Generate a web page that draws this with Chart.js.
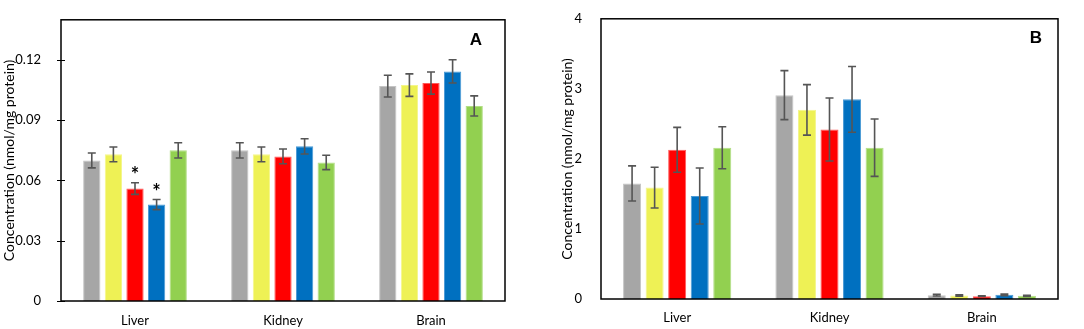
<!DOCTYPE html>
<html>
<head>
<meta charset="utf-8">
<script src="https://cdn.jsdelivr.net/npm/chart.js@4"></script>
<style>
  html, body { margin: 0; padding: 0; background: #fff; }
  #wrap { position: relative; width: 1084px; height: 329px; }
  #chartA { position: absolute; left: 0; top: 0; }
  #chartB { position: absolute; left: 540px; top: 0; }
</style>
</head>
<body>
<div id="wrap">
  <canvas id="chartA" width="540" height="329"></canvas>
  <canvas id="chartB" width="544" height="329"></canvas>
</div>
<script>
const categories = ['Liver', 'Kidney', 'Brain'];
const seriesNames = ['Group 1', 'Group 2', 'Group 3', 'Group 4', 'Group 5'];
const barColors = ['#A6A6A6', '#EEF155', '#FF0000', '#0070C0', '#92D050'];
const edgeColors = ['#C4C4C4', '#F4F68A', '#FF5A5A', '#4A9AD6', '#B2DE86'];

// Panel A: nmol/mg protein
const valuesA = [
    [0.070, 0.075, 0.107],
    [0.073, 0.073, 0.1075],
    [0.056, 0.072, 0.1085],
    [0.048, 0.077, 0.1143],
    [0.075, 0.069, 0.0971]
];
const errorsA = [
    [0.0037, 0.0038, 0.0054],
    [0.0037, 0.0037, 0.0056],
    [0.0029, 0.0037, 0.0055],
    [0.0025, 0.0038, 0.0058],
    [0.0038, 0.0036, 0.0050]
];
const starsA = [
    [0, 0, 0],
    [0, 0, 0],
    [1, 0, 0],
    [1, 0, 0],
    [0, 0, 0]
];
const ticksA = [0, 0.03, 0.06, 0.09, 0.12];

// Panel B: nmol/mg protein
const valuesB = [
    [1.65, 2.91, 0.055],
    [1.59, 2.70, 0.050],
    [2.13, 2.42, 0.040],
    [1.47, 2.85, 0.060],
    [2.16, 2.16, 0.045]
];
const errorsB = [
    [0.25, 0.35, 0.012],
    [0.29, 0.36, 0.010],
    [0.32, 0.45, 0.005],
    [0.40, 0.47, 0.012],
    [0.30, 0.41, 0.008]
];
const ticksB = [0, 1, 2, 3, 4];

const FONT = 'Lato, "Open Sans", sans-serif';

// error bars, asterisks, frame and panel letter
const extrasPlugin = {
    id: 'extras',
    afterDatasetsDraw(chart, args, opts) {
        const ctx = chart.ctx;
        const y = chart.scales.y;
        ctx.save();
        ctx.strokeStyle = '#555555';
        ctx.lineWidth = 1.6;
        chart.data.datasets.forEach((ds, i) => {
            const meta = chart.getDatasetMeta(i);
            meta.data.forEach((bar, j) => {
                const v = ds.data[j];
                const e = ds.errors[j];
                const top = y.getPixelForValue(v + e);
                const bot = y.getPixelForValue(v - e);
                const cap = 4;
                ctx.beginPath();
                ctx.moveTo(bar.x, top); ctx.lineTo(bar.x, bot);
                ctx.moveTo(bar.x - cap, top); ctx.lineTo(bar.x + cap, top);
                ctx.moveTo(bar.x - cap, bot); ctx.lineTo(bar.x + cap, bot);
                ctx.stroke();
                if (ds.stars && ds.stars[j]) {
                    ctx.fillStyle = '#000';
                    ctx.font = 'bold 20px ' + FONT;
                    ctx.textAlign = 'center';
                    ctx.textBaseline = 'middle';
                    ctx.fillText('*', bar.x, top - 7);
                }
            });
        });
        ctx.restore();
    },
    afterDraw(chart, args, opts) {
        const ctx = chart.ctx;
        const a = chart.chartArea;
        ctx.save();
        ctx.strokeStyle = '#000';
        ctx.lineWidth = 1.5;
        ctx.strokeRect(a.left, a.top, a.right - a.left, a.bottom - a.top);
        if (opts.crossTicks) {
            const y = chart.scales.y;
            ctx.lineWidth = 1;
            y.ticks.forEach(t => {
                const py = Math.round(y.getPixelForValue(t.value)) + 0.5;
                ctx.beginPath();
                ctx.moveTo(a.left - 4, py);
                ctx.lineTo(a.left + 4, py);
                ctx.stroke();
            });
        }
        ctx.fillStyle = '#000';
        ctx.font = 'bold 17px "Liberation Sans", Arial, sans-serif';
        ctx.textAlign = 'center';
        ctx.textBaseline = 'middle';
        ctx.fillText(opts.letter, a.right - opts.letterDx, a.top + opts.letterDy);
        ctx.restore();
    }
};

function makeChart(id, values, errors, stars, tickValues, yMax, cfg) {
    const datasets = seriesNames.map((name, i) => ({
        label: name,
        data: values[i],
        errors: errors[i],
        stars: stars ? stars[i] : null,
        backgroundColor: barColors[i],
        borderColor: edgeColors[i],
        borderWidth: 1,
        categoryPercentage: cfg.catPct,
        barPercentage: 0.8
    }));
    return new Chart(document.getElementById(id), {
        type: 'bar',
        data: { labels: categories, datasets: datasets },
        options: {
            responsive: false,
            animation: false,
            devicePixelRatio: 1,
            layout: { padding: { left: cfg.padLeft, right: cfg.padRight, top: 7, bottom: 0 } },
            plugins: {
                legend: { display: false },
                tooltip: { enabled: false },
                extras: cfg.extras
            },
            scales: {
                x: {
                    grid: { display: false },
                    border: { display: false },
                    ticks: { color: '#000', font: { family: FONT, size: 13 }, padding: cfg.xPad },
                    afterFit(scale) { scale.height = cfg.xHeight; }
                },
                y: {
                    min: 0,
                    max: yMax,
                    grid: { display: false },
                    border: { display: false },
                    afterBuildTicks(scale) {
                        scale.ticks = tickValues.map(v => ({ value: v }));
                    },
                    ticks: {
                        color: '#000',
                        font: { family: FONT, size: 13 },
                        padding: cfg.tickPad,
                        callback: v => String(v)
                    },
                    title: {
                        display: true,
                        text: 'Concentration (nmol/mg protein)',
                        color: '#000',
                        font: { family: FONT, size: 14 },
                        padding: { top: 0, bottom: cfg.titleGap }
                    },
                    afterFit(scale) { scale.width = cfg.yWidth; }
                }
            }
        },
        plugins: [extrasPlugin]
    });
}

makeChart('chartA', valuesA, errorsA, starsA, ticksA, 0.14, {
    catPct: 0.73, padLeft: 1, padRight: 35, xHeight: 28, xPad: 4, yWidth: 60,
    tickPad: 12, titleGap: 0,
    extras: { letter: 'A', letterDx: 29, letterDy: 21, crossTicks: true }
});

makeChart('chartB', valuesB, errorsB, null, ticksB, 4, {
    catPct: 0.74, padLeft: 19, padRight: 26, xHeight: 30, xPad: 3, yWidth: 42,
    tickPad: 11, titleGap: 0,
    extras: { letter: 'B', letterDx: 22, letterDy: 20, crossTicks: false }
});
</script>
</body>
</html>
